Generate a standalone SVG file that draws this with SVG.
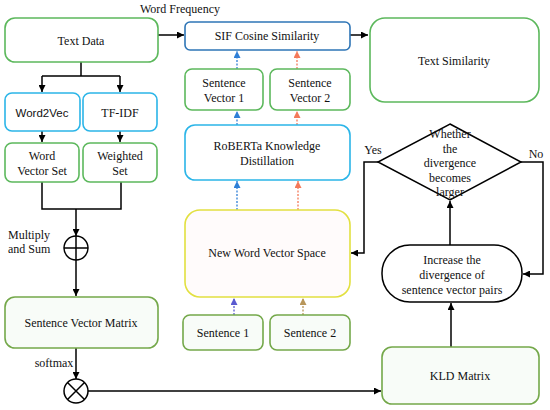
<svg xmlns="http://www.w3.org/2000/svg" width="550" height="410" viewBox="0 0 550 410">
<defs>
<marker id="ab" viewBox="0 0 10 10" refX="10" refY="5" markerWidth="7" markerHeight="7" markerUnits="userSpaceOnUse" orient="auto"><path d="M0,0 L10,5 L0,10 z" fill="#000"/></marker>
<marker id="abl" viewBox="0 0 10 10" refX="10" refY="5" markerWidth="7" markerHeight="7" markerUnits="userSpaceOnUse" orient="auto"><path d="M0,0 L10,5 L0,10 z" fill="#2f7fd6"/></marker>
<marker id="aor" viewBox="0 0 10 10" refX="10" refY="5" markerWidth="7" markerHeight="7" markerUnits="userSpaceOnUse" orient="auto"><path d="M0,0 L10,5 L0,10 z" fill="#f47a5a"/></marker>
<marker id="apu" viewBox="0 0 10 10" refX="10" refY="5" markerWidth="7" markerHeight="7" markerUnits="userSpaceOnUse" orient="auto"><path d="M0,0 L10,5 L0,10 z" fill="#5a5ad0"/></marker>
<marker id="atn" viewBox="0 0 10 10" refX="10" refY="5" markerWidth="7" markerHeight="7" markerUnits="userSpaceOnUse" orient="auto"><path d="M0,0 L10,5 L0,10 z" fill="#b8965a"/></marker>
</defs>
<style>
text{font-family:"Liberation Serif","Times New Roman",serif;font-size:12px;fill:#111;text-anchor:middle;dominant-baseline:central}
text.sans{font-family:"Liberation Sans",Arial,sans-serif;font-size:11.5px}
text.st{text-anchor:start}
.g{fill:#fff;stroke:#5cb85c;stroke-width:1.6}
.o{fill:#f8fcf8;stroke:#74a84a;stroke-width:1.6}
.c{fill:#fff;stroke:#2bb5e8;stroke-width:1.6}
.b{fill:#fff;stroke:#2e75b6;stroke-width:1.6}
.y{fill:#fffbfb;stroke:#e2e040;stroke-width:1.6}
.k{fill:#fff;stroke:#000;stroke-width:1.5}
.l{fill:none;stroke:#000;stroke-width:1.5}
.dbl{fill:none;stroke:#2f7fd6;stroke-width:1.3;stroke-dasharray:2 1.5}
.dor{fill:none;stroke:#f47a5a;stroke-width:1.3;stroke-dasharray:2 1.5}
.dpu{fill:none;stroke:#5a5ad0;stroke-width:1.3;stroke-dasharray:2 1.5}
.dtn{fill:none;stroke:#b8965a;stroke-width:1.3;stroke-dasharray:2 1.5}
</style>
<g id="connectors">
<path class="l" d="M158,35 H184" marker-end="url(#ab)"/>
<path class="l" d="M350,35 H368" marker-end="url(#ab)"/>
<path class="l" d="M81,62 V76 M42,76 H120"/>
<path class="l" d="M42,76 V92" marker-end="url(#ab)"/>
<path class="l" d="M120,76 V92" marker-end="url(#ab)"/>
<path class="l" d="M42,131 V142" marker-end="url(#ab)"/>
<path class="l" d="M120,131 V142" marker-end="url(#ab)"/>
<path class="l" d="M42,182 V209 H121 V182"/>
<path class="l" d="M76,209 V236" marker-end="url(#ab)"/>
<path class="l" d="M76,260 V296" marker-end="url(#ab)"/>
<path class="l" d="M76,348 V379" marker-end="url(#ab)"/>
<path class="l" d="M88,391 H381" marker-end="url(#ab)"/>
<path class="l" d="M451,347 V303" marker-end="url(#ab)"/>
<path class="l" d="M450,245 V201" marker-end="url(#ab)"/>
<path class="l" d="M378,162 H364 V253 H351" marker-end="url(#ab)"/>
<path class="l" d="M521,162 H543 V274 H523" marker-end="url(#ab)"/>
<path class="dbl" d="M237,69 V51" marker-end="url(#abl)"/>
<path class="dor" d="M297,69 V51" marker-end="url(#aor)"/>
<path class="dbl" d="M237,125 V111" marker-end="url(#abl)"/>
<path class="dor" d="M297,125 V111" marker-end="url(#aor)"/>
<path class="dbl" d="M237,210 V181" marker-end="url(#abl)"/>
<path class="dor" d="M298,210 V181" marker-end="url(#aor)"/>
<path class="dpu" d="M234,315 V298" marker-end="url(#apu)"/>
<path class="dtn" d="M303,315 V298" marker-end="url(#atn)"/>
</g>
<text x="180" y="9">Word Frequency</text>
<text class="st" x="8" y="235">Multiply</text>
<text class="st" x="8" y="249">and Sum</text>
<text x="54" y="363">softmax</text>
<text x="373" y="150">Yes</text>
<text x="536" y="154">No</text>
<g id="textdata"><rect class="g" x="5" y="18" width="153" height="44" rx="10"/><text x="81" y="41">Text Data</text></g>
<g id="sif"><rect class="b" x="185" y="22" width="165" height="28" rx="5"/><text x="267" y="36">SIF Cosine Similarity</text></g>
<g id="textsim"><rect class="g" x="370" y="18" width="169" height="84" rx="15"/><text x="454" y="61">Text Similarity</text></g>
<g id="word2vec"><rect class="c" x="5" y="93" width="75" height="38" rx="7"/><text class="sans" x="42" y="113">Word2Vec</text></g>
<g id="tfidf"><rect class="c" x="83" y="93" width="74" height="38" rx="7"/><text x="120" y="113">TF-IDF</text></g>
<g id="wvs"><rect class="g" x="5" y="143" width="74" height="39" rx="7"/><text x="42" y="156">Word</text><text x="42" y="171">Vector Set</text></g>
<g id="ws"><rect class="g" x="83" y="143" width="74" height="39" rx="7"/><text x="120" y="156">Weighted</text><text x="120" y="171">Set</text></g>
<g id="plus"><circle class="k" cx="76" cy="248" r="12"/><path class="l" d="M64,248 H88 M76,236 V260"/></g>
<g id="svm"><rect class="o" x="5" y="297" width="153" height="51" rx="10"/><text x="81" y="323">Sentence Vector Matrix</text></g>
<g id="times"><circle class="k" cx="76" cy="391" r="12"/><path class="l" d="M67.5,382.5 L84.5,399.5 M84.5,382.5 L67.5,399.5"/></g>
<g id="sv1"><rect class="g" x="185" y="69" width="78" height="41" rx="7"/><text x="224" y="83">Sentence</text><text x="224" y="98">Vector 1</text></g>
<g id="sv2"><rect class="g" x="270" y="69" width="80" height="41" rx="7"/><text x="310" y="83">Sentence</text><text x="310" y="98">Vector 2</text></g>
<g id="roberta"><rect class="c" x="185" y="125" width="165" height="55" rx="10"/><text x="267" y="146">RoBERTa Knowledge</text><text x="267" y="161">Distillation</text></g>
<g id="nwvs"><rect class="y" x="185" y="210" width="165" height="87" rx="15"/><text x="267" y="253">New Word Vector Space</text></g>
<g id="s1"><rect class="o" x="183" y="315" width="80" height="35" rx="7"/><text x="223" y="333">Sentence 1</text></g>
<g id="s2"><rect class="o" x="270" y="315" width="80" height="35" rx="7"/><text x="310" y="333">Sentence 2</text></g>
<g id="diamond"><path class="k" d="M450,124 L521,162 L450,200 L378,162 Z"/><text x="450" y="134">Whether</text><text x="450" y="149">the</text><text x="450" y="163">divergence</text><text x="450" y="178">becomes</text><text x="450" y="192">larger</text></g>
<g id="increase"><rect class="k" x="382" y="245" width="140" height="57" rx="28"/><text x="452" y="260">Increase the</text><text x="452" y="275">divergence of</text><text x="452" y="290">sentence vector pairs</text></g>
<g id="kld"><rect class="o" x="382" y="347" width="157" height="57" rx="10"/><text x="460" y="376">KLD Matrix</text></g>
</svg>
